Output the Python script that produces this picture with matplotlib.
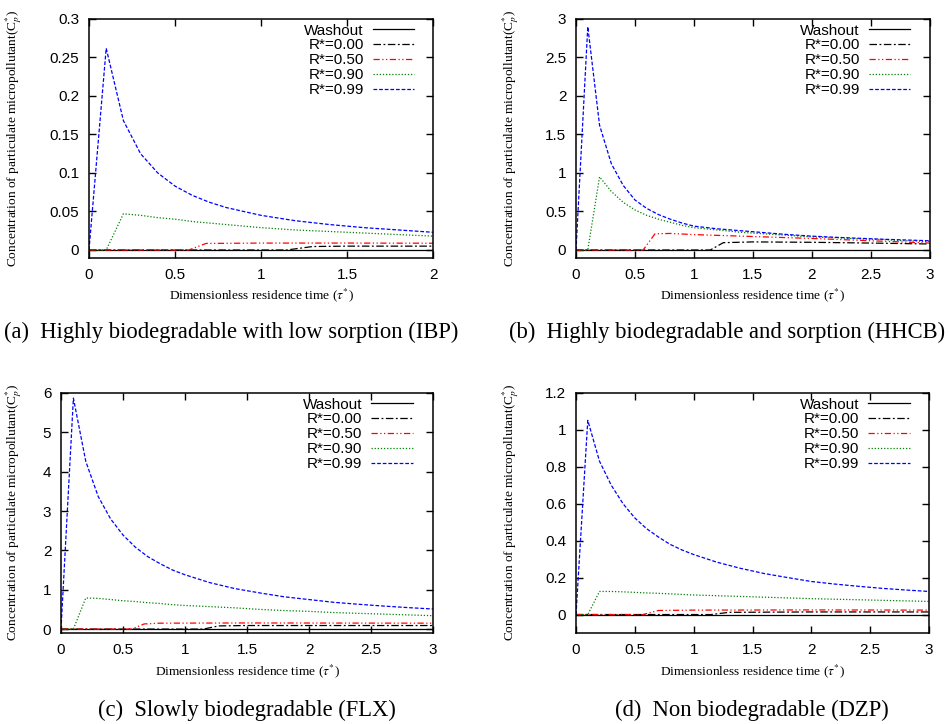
import matplotlib
matplotlib.use('Agg')
import matplotlib.pyplot as plt
from matplotlib.ticker import FuncFormatter

plt.rcParams['mathtext.fontset'] = 'stix'

W, H = 949, 724

labels = ['Washout', 'R*=0.00', 'R*=0.50', 'R*=0.90', 'R*=0.99']

# residence time grids used by the model output
tau2 = [0, 0.1, 0.2, 0.3, 0.4, 0.5, 0.6, 0.7, 0.8, 0.9, 1.0, 1.2, 1.4, 1.6, 1.8, 2.0]
tau3 = [0, 0.1, 0.2, 0.3, 0.4, 0.5, 0.6, 0.7, 0.8, 0.9, 1.0, 1.2, 1.4, 1.6, 1.8,
        2.0, 2.2, 2.4, 2.6, 2.8, 3.0]

# (a) IBP
a_wash_x = [0, 2.0]
a_wash_y = [0, 0]
a_r00_x = [0, 1.15, 1.3, 1.5, 2.0]
a_r00_y = [0, 0, 0.0045, 0.005, 0.005]
a_r50_x = [0, 0.58, 0.68, 1.0, 1.5, 2.0]
a_r50_y = [0, 0, 0.0085, 0.009, 0.009, 0.0088]
a_r90_y = [0, 0, 0.047, 0.045, 0.042, 0.040, 0.037, 0.035, 0.033, 0.031, 0.029,
           0.026, 0.024, 0.022, 0.020, 0.018]
a_r99_y = [0, 0.262, 0.168, 0.125, 0.100, 0.083, 0.071, 0.062, 0.055, 0.050, 0.045,
           0.038, 0.033, 0.029, 0.026, 0.023]

# (b) HHCB
b_wash_x = [0, 3.0]
b_wash_y = [0, 0]
b_r00_x = [0, 1.14, 1.25, 1.5, 2.0, 2.5, 3.0]
b_r00_y = [0, 0, 0.095, 0.105, 0.10, 0.09, 0.078]
b_r50_x = [0, 0.57, 0.67, 0.8, 1.0, 1.5, 2.0, 2.5, 3.0]
b_r50_y = [0, 0, 0.21, 0.215, 0.20, 0.175, 0.15, 0.12, 0.09]
b_r90_y = [0, 0, 0.95, 0.76, 0.62, 0.52, 0.45, 0.40, 0.36, 0.32, 0.29, 0.26, 0.23,
           0.21, 0.19, 0.17, 0.16, 0.145, 0.135, 0.12, 0.11]
b_r99_y = [0, 2.90, 1.62, 1.12, 0.84, 0.65, 0.54, 0.46, 0.40, 0.35, 0.31, 0.275, 0.25,
           0.225, 0.20, 0.18, 0.165, 0.152, 0.14, 0.13, 0.12]

# (c) FLX
c_wash_x = [0, 3.0]
c_wash_y = [0, 0]
c_r00_x = [0, 1.15, 1.27, 1.5, 3.0]
c_r00_y = [0, 0, 0.08, 0.09, 0.09]
c_r50_x = [0, 0.57, 0.67, 0.8, 1.5, 3.0]
c_r50_y = [0, 0, 0.13, 0.15, 0.155, 0.15]
c_r90_y = [0, 0, 0.79, 0.78, 0.75, 0.72, 0.70, 0.67, 0.65, 0.62, 0.60, 0.57, 0.54,
           0.50, 0.47, 0.45, 0.42, 0.40, 0.38, 0.36, 0.34]
c_r99_y = [0, 5.87, 4.26, 3.37, 2.80, 2.39, 2.08, 1.84, 1.66, 1.50, 1.38, 1.18, 1.03,
           0.92, 0.82, 0.75, 0.68, 0.63, 0.585, 0.545, 0.51]

# (d) DZP
d_wash_x = [0, 3.0]
d_wash_y = [0, 0]
d_r00_x = [0, 1.15, 1.3, 2.0, 3.0]
d_r00_y = [0, 0, 0.012, 0.014, 0.014]
d_r50_x = [0, 0.57, 0.7, 1.0, 2.0, 3.0]
d_r50_y = [0, 0, 0.022, 0.024, 0.025, 0.024]
d_r90_y = [0, 0, 0.125, 0.125, 0.123, 0.12, 0.117, 0.115, 0.112, 0.109, 0.106, 0.102,
           0.098, 0.094, 0.09, 0.086, 0.083, 0.08, 0.077, 0.074, 0.071]
d_r99_y = [0, 1.052, 0.83, 0.70, 0.60, 0.523, 0.465, 0.42, 0.38, 0.35, 0.325, 0.283,
           0.25, 0.222, 0.20, 0.179, 0.165, 0.153, 0.142, 0.133, 0.125]

a_yticks = [0, 0.05, 0.1, 0.15, 0.2, 0.25, 0.3]
b_yticks = [0, 0.5, 1, 1.5, 2, 2.5, 3]
c_yticks = [0, 1, 2, 3, 4, 5, 6]
d_yticks = [0, 0.2, 0.4, 0.6, 0.8, 1.0, 1.2]
x2_ticks = [0, 0.5, 1, 1.5, 2]
x3_ticks = [0, 0.5, 1, 1.5, 2, 2.5, 3]

captions = ['(a)  Highly biodegradable with low sorption (IBP)',
            '(b)  Highly biodegradable and sorption (HHCB)',
            '(c)  Slowly biodegradable (FLX)',
            '(d)  Non biodegradable (DZP)']

styles = [dict(color='black', ls='-'),
          dict(color='black', dashes=(6, 2, 1.5, 2)),
          dict(color='red', dashes=(5, 2, 1, 2, 1, 2)),
          dict(color='#008000', dashes=(1, 1.5)),
          dict(color='blue', dashes=(3, 1.5))]

sans = 'Liberation Sans'
serif = 'Liberation Serif'

fig = plt.figure(figsize=(W / 100, H / 100), dpi=100)


def panel(box, curves, xmax, ylow, yticks, xticks, ylab_px, caption, cap_xy):
    l, t, r, b = box
    ax = fig.add_axes([l / W, 1 - b / H, (r - l) / W, (b - t) / H])
    lines = []
    for (x, y), st in zip(curves, styles):
        ln, = ax.plot(x, y, lw=0.9, **st)
        lines.append(ln)
    ax.set_xlim(0, xmax)
    ax.set_ylim(ylow, yticks[-1])
    ax.set_xticks(xticks)
    ax.set_yticks(yticks)
    fmt = FuncFormatter(lambda v, p: f'{v:g}')
    ax.xaxis.set_major_formatter(fmt)
    ax.yaxis.set_major_formatter(fmt)
    ax.tick_params(direction='in', top=True, right=True, length=5, width=1,
                   labelsize=11, pad=7)
    for lab in ax.get_xticklabels() + ax.get_yticklabels():
        lab.set_family(sans)
    for sp in ax.spines.values():
        sp.set_linewidth(1.1)

    ax.set_xlabel(r'Dimensionless residence time ($\tau^{*}$)', family=serif, fontsize=9.6)
    ax.xaxis.set_label_coords(0.5, -0.121)
    ax.set_ylabel(r'Concentration of particulate micropollutant(C$_{p}^{*}$)',
                  family=serif, fontsize=9.6)
    ax.yaxis.set_label_coords((ylab_px - l) / (r - l), 0.5)

    ax.legend(lines, labels, loc='upper right', bbox_to_anchor=(0.945, 0.981),
              frameon=False, markerfirst=False, handlelength=2.7, handletextpad=0.6,
              labelspacing=0.06, borderpad=0, borderaxespad=0,
              prop=dict(family=sans, size=11))

    fig.text(cap_xy[0] / W, 1 - cap_xy[1] / H, caption, family=serif, fontsize=16.3,
             ha='center', va='center')
    return ax


panel((89, 19, 433, 258),
      [(a_wash_x, a_wash_y), (a_r00_x, a_r00_y), (a_r50_x, a_r50_y),
       (tau2, a_r90_y), (tau2, a_r99_y)],
      2, -0.0104, a_yticks, x2_ticks, 24, captions[0], (231, 332))

panel((576, 19, 929.5, 258),
      [(b_wash_x, b_wash_y), (b_r00_x, b_r00_y), (b_r50_x, b_r50_y),
       (tau3, b_r90_y), (tau3, b_r99_y)],
      3, -0.104, b_yticks, x3_ticks, 521, captions[1], (727, 332))

panel((61, 393, 433, 633),
      [(c_wash_x, c_wash_y), (c_r00_x, c_r00_y), (c_r50_x, c_r50_y),
       (tau3, c_r90_y), (tau3, c_r99_y)],
      3, -0.1, c_yticks, x3_ticks, 24, captions[2], (247, 710))

panel((576, 393, 929, 633),
      [(d_wash_x, d_wash_y), (d_r00_x, d_r00_y), (d_r50_x, d_r50_y),
       (tau3, d_r90_y), (tau3, d_r99_y)],
      3, -0.1, d_yticks, x3_ticks, 521, captions[3], (752, 710))

fig.savefig('out.png', dpi=100)
